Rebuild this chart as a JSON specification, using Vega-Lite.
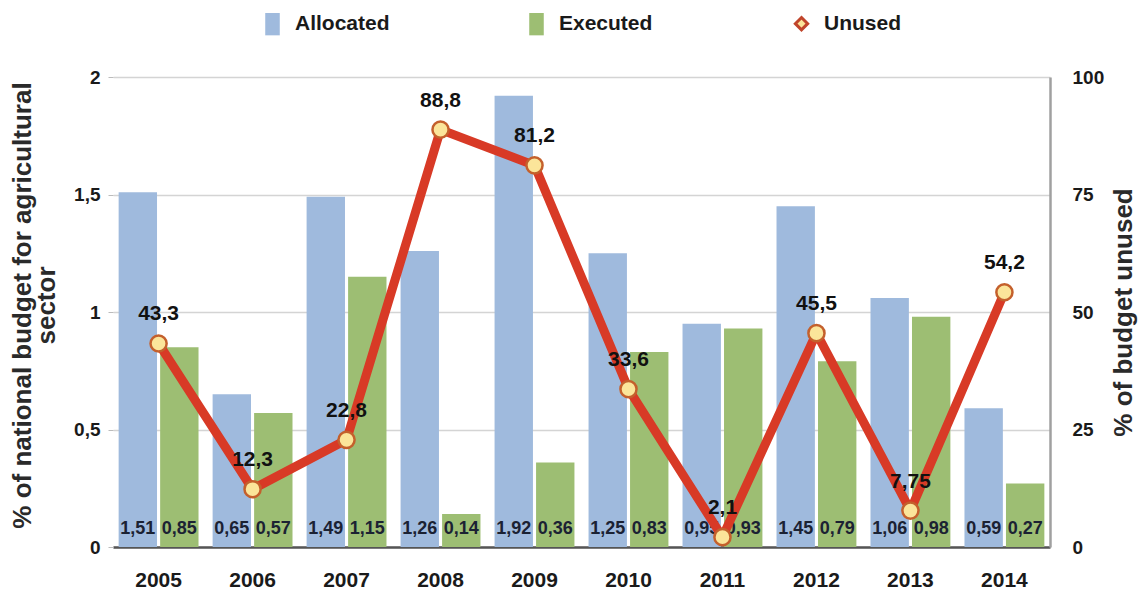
{
  "$schema": "https://vega.github.io/schema/vega-lite/v6.json",
  "width": 937,
  "height": 470,
  "autosize": {"type": "none"},
  "padding": {"left": 113, "top": 77, "right": 90, "bottom": 43},
  "background": "white",
  "datasets": {
    "budget": [
      {"year": "2005", "series": "Allocated", "value": 1.51},
      {"year": "2005", "series": "Executed", "value": 0.85},
      {"year": "2006", "series": "Allocated", "value": 0.65},
      {"year": "2006", "series": "Executed", "value": 0.57},
      {"year": "2007", "series": "Allocated", "value": 1.49},
      {"year": "2007", "series": "Executed", "value": 1.15},
      {"year": "2008", "series": "Allocated", "value": 1.26},
      {"year": "2008", "series": "Executed", "value": 0.14},
      {"year": "2009", "series": "Allocated", "value": 1.92},
      {"year": "2009", "series": "Executed", "value": 0.36},
      {"year": "2010", "series": "Allocated", "value": 1.25},
      {"year": "2010", "series": "Executed", "value": 0.83},
      {"year": "2011", "series": "Allocated", "value": 0.95},
      {"year": "2011", "series": "Executed", "value": 0.93},
      {"year": "2012", "series": "Allocated", "value": 1.45},
      {"year": "2012", "series": "Executed", "value": 0.79},
      {"year": "2013", "series": "Allocated", "value": 1.06},
      {"year": "2013", "series": "Executed", "value": 0.98},
      {"year": "2014", "series": "Allocated", "value": 0.59},
      {"year": "2014", "series": "Executed", "value": 0.27}
    ],
    "unused": [
      {"year": "2005", "unused": 43.3},
      {"year": "2006", "unused": 12.3},
      {"year": "2007", "unused": 22.8},
      {"year": "2008", "unused": 88.8},
      {"year": "2009", "unused": 81.2},
      {"year": "2010", "unused": 33.6},
      {"year": "2011", "unused": 2.1},
      {"year": "2012", "unused": 45.5},
      {"year": "2013", "unused": 7.75},
      {"year": "2014", "unused": 54.2}
    ]
  },
  "layer": [
    {
      "data": {"name": "budget"},
      "encoding": {
        "x": {
          "field": "year", "type": "nominal",
          "scale": {"paddingInner": 0.15, "paddingOuter": 0.06},
          "axis": {
            "title": null, "labelAngle": 0, "ticks": false, "labelPadding": 22,
            "domainColor": "#555555", "domainWidth": 2.5,
            "labelFont": "Liberation Sans", "labelFontWeight": "bold", "labelFontSize": 21, "labelColor": "#1a1a1a"
          }
        },
        "xOffset": {"field": "series", "type": "nominal", "scale": {"paddingInner": 0.075, "paddingOuter": 0}},
        "y": {
          "field": "value", "type": "quantitative",
          "scale": {"domain": [0, 2]},
          "axis": {
            "orient": "left",
            "values": [0, 0.5, 1, 1.5, 2],
            "format": "~r",
            "title": ["% of national budget for agricultural", "sector"],
            "titleFont": "Liberation Sans", "titleFontWeight": "bold", "titleFontSize": 26, "titleColor": "#2a2a2a",
            "titleLineHeight": 24, "titlePadding": 14, "titleY": 228,
            "labelFont": "Liberation Sans", "labelFontWeight": "bold", "labelFontSize": 19, "labelColor": "#1a1a1a",
            "labelPadding": 8, "tickSize": 5, "tickColor": "#bbbbbb",
            "domain": false,
            "grid": true, "gridColor": "#d4d4d4", "gridWidth": 1.5
          }
        }
      },
      "layer": [
        {
          "mark": {"type": "bar"},
          "encoding": {
            "color": {
              "field": "series", "type": "nominal",
              "scale": {"domain": ["Allocated", "Executed", "Unused"], "range": ["#9fbadd", "#9dbe73", "#fbe59a"]},
              "legend": {
                "title": null,
                "orient": "none", "direction": "horizontal",
                "legendX": 149, "legendY": -64,
                "padding": 0,
                "symbolSize": 500,
                "labelOffset": 12,
                "columnPadding": 136,
                "labelFont": "Liberation Sans", "labelFontWeight": "bold", "labelFontSize": 21, "labelColor": "#1a1a1a",
                "symbolOpacity": 1,
                "encode": {
                  "symbols": {
                    "update": {
                      "shape": {"signal": "datum.value === 'Unused' ? 'M0,-0.55L0.55,0L0,0.55L-0.55,0Z' : 'M-0.65,-1H0.65V1H-0.65Z'"},
                      "stroke": {"signal": "datum.value === 'Unused' ? '#c0452b' : null"},
                      "strokeWidth": {"signal": "datum.value === 'Unused' ? 3 : 0"},
                      "fill": {"signal": "datum.value === 'Unused' ? '#fdf1dc' : (datum.value === 'Allocated' ? '#9fbadd' : '#9dbe73')"}
                    }
                  }
                }
              }
            }
          }
        },
        {
          "mark": {"type": "text", "baseline": "middle", "align": "center", "dy": -18,
                   "font": "Liberation Sans", "fontWeight": "bold", "fontSize": 18, "color": "#1b2233"},
          "encoding": {
            "y": {"datum": 0},
            "text": {"field": "value", "type": "quantitative", "format": "~r"}
          }
        }
      ]
    },
    {
      "data": {"name": "unused"},
      "encoding": {
        "x": {
          "field": "year", "type": "nominal",
          "axis": {
            "title": null, "labelAngle": 0, "ticks": false, "labelPadding": 22,
            "domainColor": "#555555", "domainWidth": 2.5,
            "labelFont": "Liberation Sans", "labelFontWeight": "bold", "labelFontSize": 21, "labelColor": "#1a1a1a"
          }
        },
        "y": {
          "field": "unused", "type": "quantitative",
          "scale": {"domain": [0, 100]},
          "axis": {
            "orient": "right",
            "values": [0, 25, 50, 75, 100],
            "title": "% of budget unused",
            "titleAngle": -90, "titleBaseline": "top",
            "titleFont": "Liberation Sans", "titleFontWeight": "bold", "titleFontSize": 26, "titleColor": "#2a2a2a",
            "titlePadding": 7,
            "labelFont": "Liberation Sans", "labelFontWeight": "bold", "labelFontSize": 19, "labelColor": "#1a1a1a",
            "labelPadding": 22, "ticks": false,
            "domain": true, "domainColor": "#a0a0a0", "domainWidth": 2.5,
            "grid": false
          }
        }
      },
      "layer": [
        {
          "mark": {"type": "line", "color": "#d83a26", "strokeWidth": 9, "strokeJoin": "round"}
        },
        {
          "mark": {"type": "point", "shape": "circle", "filled": true, "size": 260, "opacity": 1,
                   "stroke": "#c4602c", "strokeWidth": 2.5},
          "encoding": {"color": {"datum": "Unused"}}
        },
        {
          "mark": {"type": "text", "baseline": "middle", "align": "center", "dy": -29,
                   "font": "Liberation Sans", "fontWeight": "bold", "fontSize": 21, "color": "#111111"},
          "encoding": {"text": {"field": "unused", "type": "quantitative", "format": "~r"}}
        }
      ]
    }
  ],
  "resolve": {"scale": {"y": "independent"}},
  "config": {
    "view": {"stroke": null},
    "locale": {"number": {"decimal": ",", "thousands": ".", "grouping": [3], "currency": ["", " €"]}}
  }
}
